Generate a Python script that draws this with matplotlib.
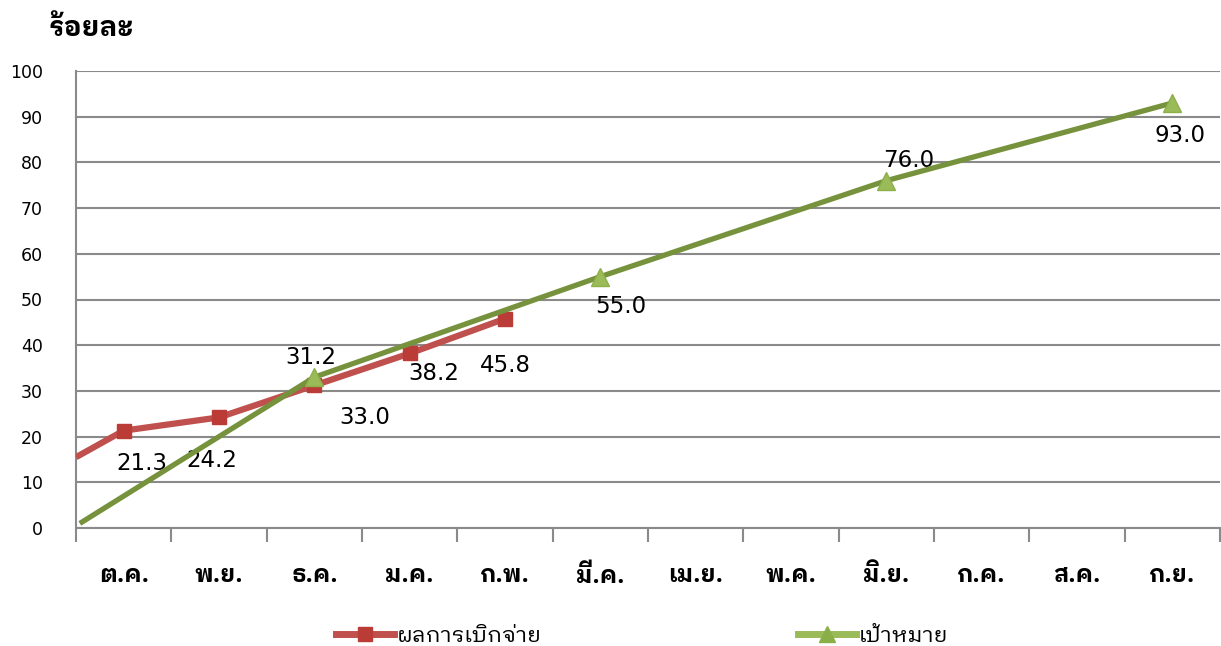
import numpy as np
import matplotlib
matplotlib.use('Agg')
import matplotlib.pyplot as plt
from matplotlib import font_manager
from matplotlib.lines import Line2D

# month labels (Thai fiscal year)
months = ['ต.ค.', 'พ.ย.', 'ธ.ค.', 'ม.ค.', 'ก.พ.', 'มี.ค.', 'เม.ย.', 'พ.ค.', 'มิ.ย.', 'ก.ค.', 'ส.ค.', 'ก.ย.']

# actual disbursement (red), value at the left edge then monthly values
actual_start = 15.5
actual_idx = [0, 1, 2, 3, 4]
actual_vals = [21.3, 24.2, 31.2, 38.2, 45.8]

# target (green)
target_start = 1.0
target_idx = [2, 5, 8, 11]
target_vals = [33.0, 55.0, 76.0, 93.0]

# shown data labels and their offsets (pixels)
actual_labels = ['21.3', '24.2', '31.2', '38.2', '45.8']
actual_offs = [(18, -33), (-7, -43), (-4, 28), (24, -20), (0, -47)]
target_labels = ['33.0', '55.0', '76.0', '93.0']
target_offs = [(50, -40), (20, -30), (22, 20), (8, -33)]

names = {f.name for f in font_manager.fontManager.ttflist}
thai = 'DejaVu Sans'
for cand in ['IBM Plex Sans Thai Looped', 'Loma', 'Sarabun', 'Noto Sans Thai Looped', 'Noto Sans Thai']:
    if cand in names:
        thai = cand
        break
thai_fam = [thai, 'DejaVu Sans']
plt.rcParams['font.family'] = ['DejaVu Sans']

fig = plt.figure(figsize=(12.21, 6.46), dpi=100)
ax = fig.add_axes([76/1221, 1-528/646, (1220-76)/1221, (528-71)/646])

x_pos = np.arange(len(months)) + 0.5
red = '#C0504D'
red_m = '#BB3B37'
green = '#76923C'
green_m = '#9BBB59'

ax.plot([0] + [x_pos[i] for i in actual_idx], [actual_start] + actual_vals,
        color=red, lw=4.5, marker='s', ms=10, mfc=red_m, mec=red_m,
        markevery=list(range(1, len(actual_vals)+1)), zorder=3, solid_capstyle='butt')
ax.plot([0.04] + [x_pos[i] for i in target_idx], [target_start] + target_vals,
        color=green, lw=3.8, marker='^', ms=12.5, mfc=green_m, mec='#8DB04A',
        markevery=list(range(1, len(target_vals)+1)), zorder=4, solid_capstyle='butt')

for i, t, o, v in zip(actual_idx, actual_labels, actual_offs, actual_vals):
    ax.annotate(t, (x_pos[i], v), xytext=o,
                textcoords='offset pixels', ha='center', va='center', fontsize=16.5)
for i, t, o, v in zip(target_idx, target_labels, target_offs, target_vals):
    ax.annotate(t, (x_pos[i], v), xytext=o,
                textcoords='offset pixels', ha='center', va='center', fontsize=16.5)

grey = '#8A8A8A'
ax.set_xlim(0, 12)
ax.set_ylim(0, 100)
ax.set_yticks(np.arange(0, 101, 10))
ax.yaxis.grid(True, color=grey, lw=1.5)
ax.set_axisbelow(True)
ax.set_xticks(np.arange(0, 13))
ax.set_xticklabels([])
ax.set_xticks(x_pos, minor=True)
ax.set_xticklabels(months, minor=True, fontsize=17, fontweight='bold', family=thai_fam)
ax.tick_params(axis='x', which='major', length=10, width=1.5, color=grey)
ax.tick_params(axis='x', which='minor', length=0, pad=26)
ax.tick_params(axis='y', length=0, labelsize=12.5, pad=24)
for s in ['top', 'right']:
    ax.spines[s].set_visible(False)
for s in ['left', 'bottom']:
    ax.spines[s].set_color(grey)
    ax.spines[s].set_linewidth(1.5)

fig.text(48/1221, 1-28/646, 'ร้อยละ', fontsize=20, fontweight='bold', va='center', ha='left',
         family=thai_fam)

h1 = Line2D([], [], color=red, lw=5, marker='s', ms=10, mfc=red_m, mec=red_m)
h2 = Line2D([], [], color=green_m, lw=5, marker='^', ms=11, mfc='#8AAE48', mec='#8AAE48')
fig.legend([h1], ['ผลการเบิกจ่าย'], loc='center left', bbox_to_anchor=(336/1221, 1-636/646),
           frameon=False, prop={'family': thai_fam, 'size': 16},
           handlelength=2.6, handletextpad=0.15, borderpad=0, borderaxespad=0)
fig.legend([h2], ['เป้าหมาย'], loc='center left', bbox_to_anchor=(798/1221, 1-636/646),
           frameon=False, prop={'family': thai_fam, 'size': 16},
           handlelength=2.6, handletextpad=0.15, borderpad=0, borderaxespad=0)

fig.savefig('out.png', dpi=100)
